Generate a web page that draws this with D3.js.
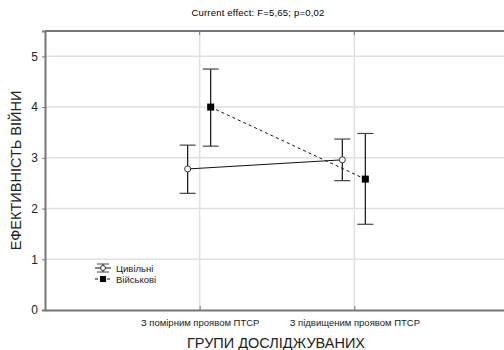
<!DOCTYPE html>
<html>
<head>
<meta charset="utf-8">
<script src="https://cdn.jsdelivr.net/npm/d3@7"></script>
<style>
  body { margin: 0; background: #fff; }
  text { font-family: Arial, "Liberation Sans", sans-serif; }
</style>
</head>
<body>
<div class="chart-container"></div>
<script>
const groups = ["З помірним проявом ПТСР", "З підвищеним проявом ПТСР"];
const seriesNames = ["Цивільні", "Військові"];
const civilMean = [2.78, 2.96];
const civilLow = [2.30, 2.55];
const civilHigh = [3.25, 3.37];
const militaryMean = [4.00, 2.58];
const militaryLow = [3.23, 1.69];
const militaryHigh = [4.75, 3.48];
const yTicks = [0, 1, 2, 3, 4, 5];

const W = 504, H = 350;
const margin = { top: 31, right: -5, bottom: 40, left: 45 };

const svg = d3.select(".chart-container").append("svg")
    .attr("width", W)
    .attr("height", H);

const x = d3.scalePoint()
    .domain(groups)
    .range([margin.left, W - margin.right])
    .padding(1);

const y = d3.scaleLinear()
    .domain([0, 5.5])
    .range([H - margin.bottom, margin.top]);

// grid
svg.append("g").selectAll("line.gy")
    .data(yTicks.slice(1))
    .join("line")
    .attr("x1", margin.left).attr("x2", W)
    .attr("y1", d => y(d)).attr("y2", d => y(d))
    .attr("stroke", "#e0e0e0").attr("stroke-width", 1.5);

svg.append("g").selectAll("line.gx")
    .data(groups)
    .join("line")
    .attr("x1", d => x(d)).attr("x2", d => x(d))
    .attr("y1", y(5.5)).attr("y2", y(0))
    .attr("stroke", "#e0e0e0").attr("stroke-width", 1.5);

// frame
svg.append("line")
    .attr("x1", margin.left).attr("x2", W)
    .attr("y1", y(5.5)).attr("y2", y(5.5))
    .attr("stroke", "#777").attr("stroke-width", 2);

// y axis
const yAxis = svg.append("g")
    .attr("transform", "translate(" + margin.left + ",0)")
    .call(d3.axisLeft(y).tickValues(yTicks).tickFormat(d3.format("d")).tickSize(3).tickPadding(4));
yAxis.select(".domain").attr("stroke", "#777").attr("stroke-width", 2);
yAxis.selectAll(".tick line").attr("stroke", "#777");
yAxis.selectAll(".tick text").attr("font-size", 12).attr("fill", "#222");

// x axis
const xAxis = svg.append("g")
    .attr("transform", "translate(0," + y(0) + ")")
    .call(d3.axisBottom(x).tickSize(-4).tickSizeOuter(0).tickPadding(9));
xAxis.select(".domain").attr("stroke", "#777").attr("stroke-width", 2);
xAxis.selectAll(".tick line").attr("stroke", "#777");
xAxis.selectAll(".tick text").attr("font-size", 9.5).attr("fill", "#222");

// top inner ticks
svg.append("g").selectAll("line")
    .data(groups)
    .join("line")
    .attr("x1", d => x(d)).attr("x2", d => x(d))
    .attr("y1", y(5.5)).attr("y2", y(5.5) + 4)
    .attr("stroke", "#777");

// title
svg.append("text")
    .attr("x", 258).attr("y", 16)
    .attr("text-anchor", "middle")
    .attr("font-size", 9.5)
    .attr("letter-spacing", 0.2)
    .text("Current effect: F=5,65; p=0,02");

// axis titles
svg.append("text")
    .attr("transform", "translate(21," + ((y(0) + y(5.5)) / 2) + ") rotate(-90)")
    .attr("text-anchor", "middle")
    .attr("font-size", 14.5)
    .attr("fill", "#222")
    .text("ЕФЕКТИВНІСТЬ ВІЙНИ");

svg.append("text")
    .attr("x", 276).attr("y", 348)
    .attr("text-anchor", "middle")
    .attr("font-size", 14.5)
    .attr("fill", "#222")
    .text("ГРУПИ ДОСЛІДЖУВАНИХ");

// series
const series = [
    { name: seriesNames[0], mean: civilMean, low: civilLow, high: civilHigh, dx: -12, dash: null, shape: "circle" },
    { name: seriesNames[1], mean: militaryMean, low: militaryLow, high: militaryHigh, dx: 11, dash: "3,3", shape: "square" }
];

const line = d3.line()
    .x(d => d[0])
    .y(d => d[1]);

series.forEach(s => {
    const pts = groups.map((g, i) => [x(g) + s.dx, y(s.mean[i])]);

    svg.append("path")
        .attr("d", line(pts))
        .attr("fill", "none")
        .attr("stroke", "#111")
        .attr("stroke-width", 1)
        .attr("stroke-dasharray", s.dash);

    groups.forEach((g, i) => {
        const cx = x(g) + s.dx;
        svg.append("line")
            .attr("x1", cx).attr("x2", cx)
            .attr("y1", y(s.low[i])).attr("y2", y(s.high[i]))
            .attr("stroke", "#111").attr("stroke-width", 1.2);
        [s.low[i], s.high[i]].forEach(v => {
            svg.append("line")
                .attr("x1", cx - 8).attr("x2", cx + 8)
                .attr("y1", y(v)).attr("y2", y(v))
                .attr("stroke", "#444").attr("stroke-width", 1.2);
        });
        if (s.shape === "circle") {
            svg.append("circle")
                .attr("cx", cx).attr("cy", y(s.mean[i])).attr("r", 3)
                .attr("fill", "#fff").attr("stroke", "#333").attr("stroke-width", 1);
        } else {
            svg.append("rect")
                .attr("x", cx - 3.5).attr("y", y(s.mean[i]) - 3.5)
                .attr("width", 7).attr("height", 7)
                .attr("fill", "#000");
        }
    });
});

// legend
const legend = svg.append("g").attr("transform", "translate(95,268)");
series.forEach((s, i) => {
    const g = legend.append("g").attr("transform", "translate(0," + (i * 11) + ")");
    g.append("line")
        .attr("x1", 0).attr("x2", 16).attr("y1", 0).attr("y2", 0)
        .attr("stroke", "#111").attr("stroke-dasharray", s.dash);
    if (i === 0) {
        g.append("line").attr("x1", 8).attr("x2", 8).attr("y1", -4).attr("y2", 4).attr("stroke", "#111");
        g.append("line").attr("x1", 2).attr("x2", 14).attr("y1", -4).attr("y2", -4).attr("stroke", "#444");
        g.append("line").attr("x1", 2).attr("x2", 14).attr("y1", 4).attr("y2", 4).attr("stroke", "#444");
        g.append("circle").attr("cx", 8).attr("cy", 0).attr("r", 2.5)
            .attr("fill", "#fff").attr("stroke", "#333");
    } else {
        g.append("rect").attr("x", 5).attr("y", -3).attr("width", 6).attr("height", 6).attr("fill", "#000");
    }
    g.append("text")
        .attr("x", 21).attr("y", 3.5)
        .attr("font-size", 9.5)
        .attr("fill", "#222")
        .text(s.name);
});
</script>
</body>
</html>
